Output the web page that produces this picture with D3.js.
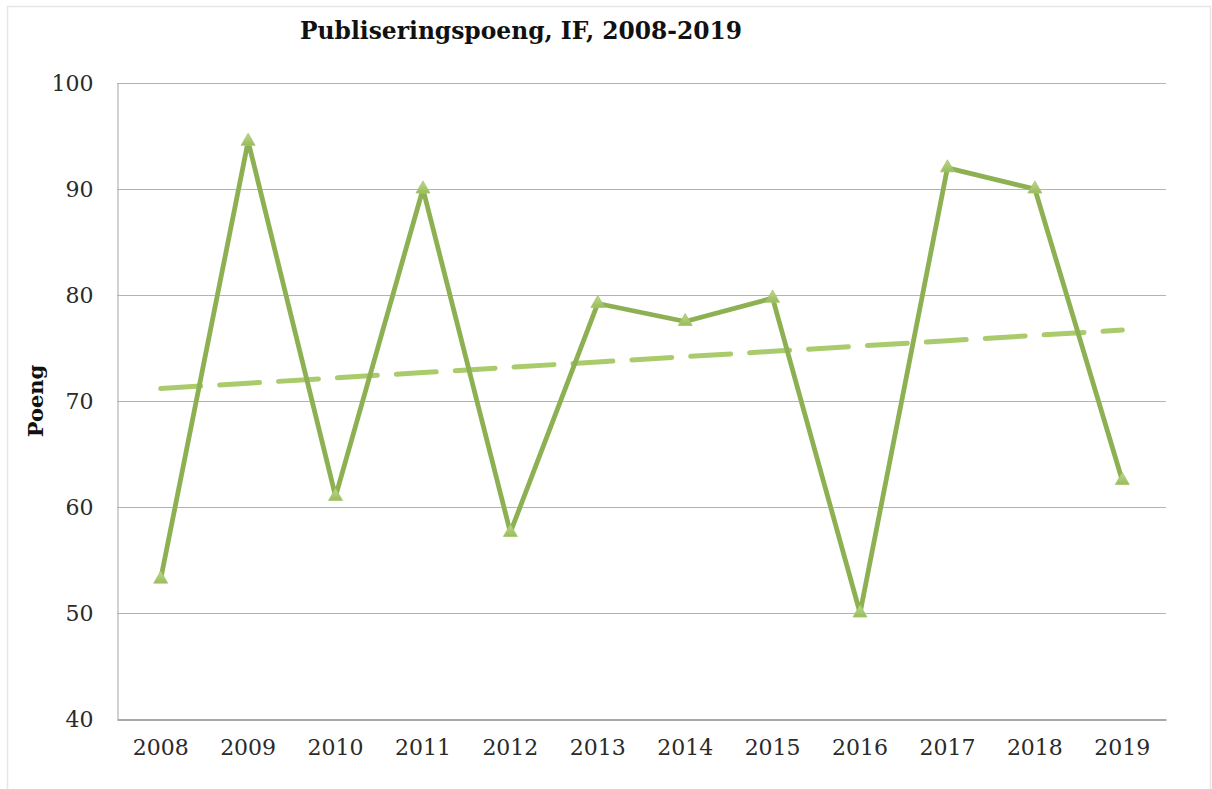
<!DOCTYPE html>
<html>
<head>
<meta charset="utf-8">
<script src="https://cdn.jsdelivr.net/npm/d3@7"></script>
<style>
  html, body { margin: 0; padding: 0; background: #fff; }
  svg { display: block; }
</style>
</head>
<body>
<svg id="chart" width="1212" height="789"></svg>
<script>
const years = ["2008","2009","2010","2011","2012","2013","2014","2015","2016","2017","2018","2019"];
const poeng = [53.2, 94.5, 61.0, 90.0, 57.6, 79.2, 77.5, 79.7, 50.0, 92.0, 90.0, 62.5];
const yTicks = [40, 50, 60, 70, 80, 90, 100];
const title = "Publiseringspoeng, IF, 2008-2019";
const yLabel = "Poeng";

const svg = d3.select("#chart");
const m = { left: 117, right: 1166, top: 83, bottom: 719 };

// outer frame
svg.append("rect")
  .attr("x", 7.5).attr("y", 6.5)
  .attr("width", 1203).attr("height", 800)
  .attr("fill", "#fff").attr("stroke", "#e6e6e6").attr("stroke-width", 1.5);

const x = d3.scaleBand().domain(years).range([m.left, m.right]);
const y = d3.scaleLinear().domain([40, 100]).range([m.bottom, m.top]);
const cx = d => x(d) + x.bandwidth() / 2;

// gridlines
svg.append("g").selectAll("line").data(yTicks.filter(t => t > 40)).join("line")
  .attr("x1", m.left).attr("x2", m.right)
  .attr("y1", d => Math.round(y(d)) + 0.5).attr("y2", d => Math.round(y(d)) + 0.5)
  .attr("stroke", "#b3b3b3").attr("stroke-width", 1);

// y axis
const yAxis = svg.append("g")
  .attr("transform", `translate(${m.left + 0.5},0)`)
  .call(d3.axisLeft(y).tickValues(yTicks).tickSize(0).tickPadding(24));
yAxis.select(".domain").attr("stroke", "#b3b3b3").attr("stroke-width", 1.2);
yAxis.selectAll("text")
  .attr("font-family", "DejaVu Serif").attr("font-size", 22).attr("fill", "#2a2a2a");

// x axis
const xAxis = svg.append("g")
  .attr("transform", `translate(0,${m.bottom + 0.5})`)
  .call(d3.axisBottom(x).tickSize(0).tickPadding(20));
xAxis.select(".domain").attr("stroke", "#a8a8a8").attr("stroke-width", 1.8);
xAxis.selectAll("text")
  .attr("font-family", "DejaVu Serif").attr("font-size", 22).attr("fill", "#2a2a2a");

// title
svg.append("text")
  .attr("x", 521).attr("y", 39)
  .attr("text-anchor", "middle")
  .attr("font-family", "DejaVu Serif").attr("font-weight", "bold")
  .attr("font-size", 24).attr("fill", "#111")
  .attr("textLength", 442).attr("lengthAdjust", "spacingAndGlyphs")
  .text(title);

// y label
svg.append("text")
  .attr("transform", "translate(43,401) rotate(-90)")
  .attr("text-anchor", "middle")
  .attr("font-family", "DejaVu Serif").attr("font-weight", "bold")
  .attr("font-size", 21).attr("fill", "#111")
  .text(yLabel);

// linear trend (least squares on the series)
const idx = poeng.map((_, i) => i);
const mx = d3.mean(idx), my = d3.mean(poeng);
const slope = d3.sum(idx, i => (i - mx) * (poeng[i] - my)) / d3.sum(idx, i => (i - mx) ** 2);
const icpt = my - slope * mx;
const trend = years.map((yr, i) => ({ yr, v: icpt + slope * i }));

svg.append("path")
  .datum(trend)
  .attr("d", d3.line().x(d => cx(d.yr)).y(d => y(d.v)))
  .attr("fill", "none").attr("stroke", "#a9cb6c").attr("stroke-width", 5)
  .attr("stroke-dasharray", "40,19").attr("stroke-linecap", "round");

// defs: marker gradient
const defs = svg.append("defs");
const grad = defs.append("linearGradient").attr("id", "tri").attr("x1", 0).attr("y1", 0).attr("x2", 0).attr("y2", 1);
grad.append("stop").attr("offset", "0%").attr("stop-color", "#bcd88e");
grad.append("stop").attr("offset", "100%").attr("stop-color", "#98bc5a");

// main series line
const data = years.map((yr, i) => ({ yr, v: poeng[i] }));
svg.append("path")
  .datum(data)
  .attr("d", d3.line().x(d => cx(d.yr)).y(d => y(d.v)))
  .attr("fill", "none").attr("stroke", "#8db152").attr("stroke-width", 4.8)
  .attr("stroke-linejoin", "round");

// triangle markers
svg.append("g").selectAll("path").data(data).join("path")
  .attr("transform", d => `translate(${cx(d.yr)},${y(d.v)})`)
  .attr("d", d3.symbol().type(d3.symbolTriangle).size(85))
  .attr("fill", "url(#tri)").attr("stroke", "#a6c76c").attr("stroke-width", 0.8);
</script>
</body>
</html>
